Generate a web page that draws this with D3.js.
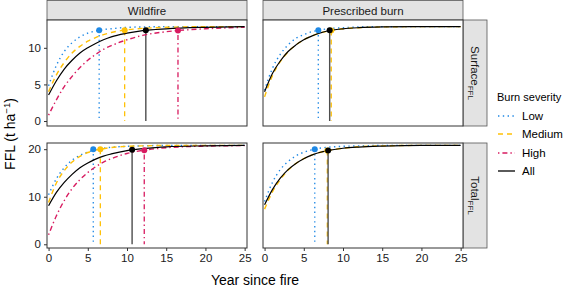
<!DOCTYPE html>
<html>
<head>
<meta charset="utf-8">
<script src="https://cdn.jsdelivr.net/npm/d3@7"></script>
<style>
  body { margin: 0; background: #fff; }
  svg { font-family: "Liberation Sans", Arial, sans-serif; }
</style>
</head>
<body>
<script>
// Data
const years = [0, 1, 2, 3, 4, 5, 6, 7, 8, 10, 12, 15, 20, 25];
const severities = ['Low', 'Medium', 'High', 'All'];
const fireTypes = ['Wildfire', 'Prescribed burn'];
const fuelTypes = ['Surface', 'Total'];

// Surface FFL, wildfire
const wildSurfaceLow    = [4.8, 7.6, 9.5, 10.7, 11.5, 12.0, 12.3, 12.5, 12.6, 12.8, 12.85, 12.9, 12.9, 12.9];
const wildSurfaceMedium = [4.0, 6.3, 8.0, 9.3, 10.2, 10.9, 11.4, 11.8, 12.1, 12.45, 12.65, 12.8, 12.9, 12.9];
const wildSurfaceHigh   = [0.8, 2.9, 4.7, 6.1, 7.3, 8.3, 9.1, 9.8, 10.3, 11.1, 11.7, 12.2, 12.6, 12.8];
const wildSurfaceAll    = [3.55, 5.5, 7.1, 8.3, 9.3, 10.0, 10.6, 11.1, 11.5, 12.0, 12.35, 12.6, 12.8, 12.9];
// Surface FFL, prescribed burn
const rxSurfaceLow    = [4.2, 7.2, 9.1, 10.4, 11.3, 11.8, 12.2, 12.4, 12.6, 12.75, 12.85, 12.9, 12.9, 12.9];
const rxSurfaceMedium = [3.3, 6.2, 8.1, 9.45, 10.4, 11.1, 11.6, 12.0, 12.25, 12.6, 12.75, 12.85, 12.9, 12.9];
const rxSurfaceAll    = [4.0, 6.5, 8.2, 9.5, 10.4, 11.1, 11.6, 12.0, 12.3, 12.6, 12.75, 12.85, 12.9, 12.9];
// Total FFL, wildfire
const wildTotalLow    = [10.4, 13.8, 16.1, 17.7, 18.7, 19.4, 19.9, 20.2, 20.4, 20.6, 20.7, 20.8, 20.8, 20.8];
const wildTotalMedium = [8.8, 12.9, 15.5, 17.3, 18.5, 19.3, 19.8, 20.1, 20.35, 20.6, 20.7, 20.8, 20.8, 20.8];
const wildTotalHigh   = [2.0, 6.0, 9.2, 11.7, 13.6, 15.1, 16.3, 17.3, 18.0, 19.1, 19.75, 20.3, 20.65, 20.75];
const wildTotalAll    = [8.1, 10.9, 13.0, 14.7, 16.1, 17.1, 17.9, 18.55, 19.0, 19.7, 20.1, 20.5, 20.7, 20.8];
// Total FFL, prescribed burn
const rxTotalLow    = [9.0, 13.0, 15.7, 17.4, 18.6, 19.35, 19.85, 20.2, 20.4, 20.6, 20.7, 20.8, 20.8, 20.8];
const rxTotalMedium = [7.4, 11.0, 13.6, 15.6, 17.0, 18.0, 18.75, 19.3, 19.7, 20.2, 20.5, 20.7, 20.8, 20.8];
const rxTotalAll    = [8.3, 11.5, 13.9, 15.7, 17.0, 18.0, 18.75, 19.3, 19.7, 20.2, 20.45, 20.65, 20.8, 20.8];

// Recovery time markers (year, FFL), order Low, Medium, High, All
const wildSurfaceMarkYear = [6.45, 9.7, 16.5, 12.4];
const wildSurfaceMarkFFL  = [12.4, 12.4, 12.35, 12.4];
const rxSurfaceMarkYear   = [6.85, 8.5, null, 8.3];
const rxSurfaceMarkFFL    = [12.4, 12.35, null, 12.4];
const wildTotalMarkYear   = [5.7, 6.6, 12.2, 10.65];
const wildTotalMarkFFL    = [20.0, 20.0, 19.8, 19.9];
const rxTotalMarkYear     = [6.4, 8.0, null, 8.1];
const rxTotalMarkFFL      = [20.0, 19.7, null, 19.7];

const xTicks = [0, 5, 10, 15, 20, 25];
const surfaceTicks = [0, 5, 10];
const totalTicks = [0, 10, 20];

// Build panel table
const panels = [
  { fire: 0, fuel: 0, curves: [wildSurfaceLow, wildSurfaceMedium, wildSurfaceHigh, wildSurfaceAll], mx: wildSurfaceMarkYear, my: wildSurfaceMarkFFL },
  { fire: 1, fuel: 0, curves: [rxSurfaceLow, rxSurfaceMedium, null, rxSurfaceAll], mx: rxSurfaceMarkYear, my: rxSurfaceMarkFFL },
  { fire: 0, fuel: 1, curves: [wildTotalLow, wildTotalMedium, wildTotalHigh, wildTotalAll], mx: wildTotalMarkYear, my: wildTotalMarkFFL },
  { fire: 1, fuel: 1, curves: [rxTotalLow, rxTotalMedium, null, rxTotalAll], mx: rxTotalMarkYear, my: rxTotalMarkFFL }
];

const colors = { Low: '#1E88E5', Medium: '#FFC107', High: '#D81B60', All: '#000000' };
const dashes = { Low: '1.4,3.4', Medium: '5,4', High: '1.4,3,5,3', All: null };
const vcolors = { Low: '#1E88E5', Medium: '#FFC107', High: '#D81B60', All: '#4d4d4d' };

// Layout
const W = 578, H = 288;
const colX = [[47, 247], [263, 463]];
const rowY = [[20, 126], [143, 248]];
const yDomains = [[-0.68, 13.8], [-0.78, 21.3]];

const svg = d3.select('body').append('svg')
  .attr('width', W)
  .attr('height', H);

const x = fireTypes.map((f, i) => d3.scaleLinear().domain([-0.2, 25.3]).range(colX[i]));
const y = fuelTypes.map((f, i) => d3.scaleLinear().domain(yDomains[i]).range([rowY[i][1], rowY[i][0]]));

// Column strips
fireTypes.forEach((f, i) => {
  svg.append('rect')
    .attr('x', colX[i][0]).attr('y', 0.5)
    .attr('width', colX[i][1] - colX[i][0]).attr('height', 19.5)
    .attr('fill', '#e3e3e3').attr('stroke', '#555').attr('stroke-width', 0.8);
  svg.append('text')
    .attr('x', (colX[i][0] + colX[i][1]) / 2).attr('y', 14.5)
    .attr('text-anchor', 'middle').attr('font-size', 11.5).attr('fill', '#1a1a1a')
    .text(f);
});

// Row strips
fuelTypes.forEach((f, j) => {
  svg.append('rect')
    .attr('x', 463).attr('y', rowY[j][0])
    .attr('width', 24).attr('height', rowY[j][1] - rowY[j][0])
    .attr('fill', '#e3e3e3').attr('stroke', '#555').attr('stroke-width', 0.8);
  const t = svg.append('text')
    .attr('transform', `translate(471,${(rowY[j][0] + rowY[j][1]) / 2}) rotate(90)`)
    .attr('text-anchor', 'middle').attr('font-size', 11.5).attr('fill', '#1a1a1a');
  t.append('tspan').text(f);
  t.append('tspan').attr('font-size', 8).attr('dy', 3).text('FFL');
});

const line = d3.line().curve(d3.curveMonotoneX);

panels.forEach(p => {
  const xs = x[p.fire], ys = y[p.fuel];
  const g = svg.append('g');

  g.append('rect')
    .attr('x', colX[p.fire][0]).attr('y', rowY[p.fuel][0])
    .attr('width', colX[p.fire][1] - colX[p.fire][0])
    .attr('height', rowY[p.fuel][1] - rowY[p.fuel][0])
    .attr('fill', '#fff');

  // vertical recovery lines
  severities.forEach((s, k) => {
    if (p.mx[k] == null) return;
    g.append('line')
      .attr('x1', xs(p.mx[k])).attr('x2', xs(p.mx[k]))
      .attr('y1', ys(p.my[k])).attr('y2', ys(0))
      .attr('stroke', vcolors[s])
      .attr('stroke-width', s === 'All' ? 1.4 : 1.3)
      .attr('stroke-dasharray', dashes[s]);
  });

  // curves
  severities.forEach((s, k) => {
    const vals = p.curves[k];
    if (!vals) return;
    g.append('path')
      .attr('d', line(years.map((yr, i) => [xs(yr), ys(vals[i])])))
      .attr('fill', 'none')
      .attr('stroke', colors[s])
      .attr('stroke-width', s === 'All' ? 1.2 : 1.4)
      .attr('stroke-dasharray', dashes[s]);
  });

  // markers
  severities.forEach((s, k) => {
    if (p.mx[k] == null) return;
    g.append('circle')
      .attr('cx', xs(p.mx[k])).attr('cy', ys(p.my[k]))
      .attr('r', 3)
      .attr('fill', colors[s]);
  });

  // panel border
  g.append('rect')
    .attr('x', colX[p.fire][0]).attr('y', rowY[p.fuel][0])
    .attr('width', colX[p.fire][1] - colX[p.fire][0])
    .attr('height', rowY[p.fuel][1] - rowY[p.fuel][0])
    .attr('fill', 'none').attr('stroke', '#333').attr('stroke-width', 1);
});

// Y axes (left column only)
fuelTypes.forEach((f, j) => {
  const ax = svg.append('g')
    .attr('transform', `translate(${colX[0][0]},0)`)
    .call(d3.axisLeft(y[j]).tickValues(j === 0 ? surfaceTicks : totalTicks).tickSize(3).tickPadding(3));
  ax.select('.domain').remove();
  ax.selectAll('text').attr('font-size', 11.5).attr('fill', '#1a1a1a').attr('font-family', '"Liberation Sans", Arial, sans-serif');
  ax.selectAll('line').attr('stroke', '#333');
});

// X axes (bottom row only)
fireTypes.forEach((f, i) => {
  const ax = svg.append('g')
    .attr('transform', `translate(0,${rowY[1][1]})`)
    .call(d3.axisBottom(x[i]).tickValues(xTicks).tickSize(3).tickPadding(3));
  ax.select('.domain').remove();
  ax.selectAll('text').attr('font-size', 11.5).attr('fill', '#1a1a1a').attr('font-family', '"Liberation Sans", Arial, sans-serif');
  ax.selectAll('line').attr('stroke', '#333');
});

// Axis titles
const yt = svg.append('text')
  .attr('transform', `translate(15,134) rotate(-90)`)
  .attr('text-anchor', 'middle').attr('font-size', 14).attr('fill', '#000');
yt.append('tspan').text('FFL (t ha');
yt.append('tspan').attr('font-size', 9.5).attr('dy', -5).text('\u22121');
yt.append('tspan').attr('dy', 5).text(')');

svg.append('text')
  .attr('x', 255).attr('y', 285)
  .attr('text-anchor', 'middle').attr('font-size', 14).attr('fill', '#000')
  .text('Year since fire');

// Legend
const legend = svg.append('g').attr('transform', 'translate(497,0)');
legend.append('text')
  .attr('x', 0).attr('y', 101)
  .attr('font-size', 11).attr('fill', '#000')
  .text('Burn severity');
severities.forEach((s, k) => {
  const ly = [116, 134, 153, 171][k];
  legend.append('line')
    .attr('x1', 1).attr('x2', 18).attr('y1', ly).attr('y2', ly)
    .attr('stroke', colors[s]).attr('stroke-width', s === 'All' ? 1.3 : 1.4)
    .attr('stroke-dasharray', dashes[s]);
  legend.append('text')
    .attr('x', 25).attr('y', ly + 4)
    .attr('font-size', 11.5).attr('fill', '#000')
    .text(s);
});
</script>
</body>
</html>
